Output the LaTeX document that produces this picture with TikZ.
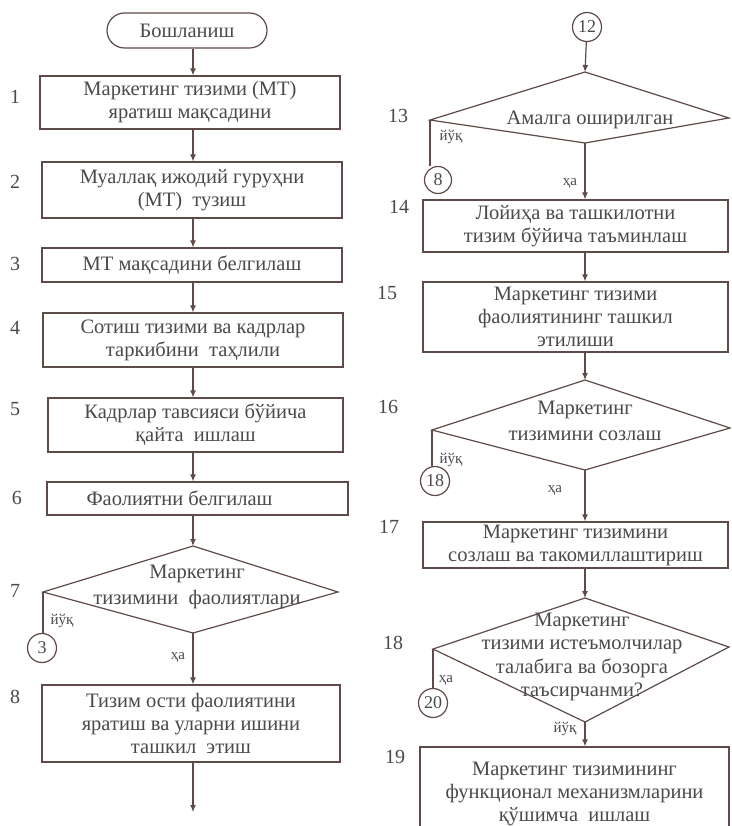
\documentclass[tikz,border=0pt]{standalone}
\usepackage{fontspec}
\setmainfont{Liberation Serif}
\usetikzlibrary{arrows.meta,shapes.misc}
\definecolor{lnc}{HTML}{5E4A46}
\definecolor{txc}{HTML}{4A4A4A}
\tikzset{
  txt/.style={text=txc,font=\fontsize{20.5}{23}\selectfont,align=center,inner sep=0pt},
  box/.style={txt,draw=lnc,line width=1.2pt},
  num/.style={text=txc,font=\fontsize{20}{22}\selectfont,inner sep=0pt},
  lab/.style={text=txc,font=\fontsize{15}{16}\selectfont,inner sep=0pt},
  conn/.style={draw=lnc,line width=1.2pt,circle,inner sep=0pt,minimum size=29pt,text=txc,font=\fontsize{18}{18}\selectfont},
  lnk/.style={draw=lnc,line width=1.2pt},
  arr/.style={lnk,-{Latex[length=7pt,width=6pt]}},
  dia/.style={lnk,line join=miter},
}
\begin{document}
\begin{tikzpicture}[x=1pt,y=-1pt]
\useasboundingbox[fill=white] (0,0) rectangle (731,826);
\clip (0,0) rectangle (731,826);
\coordinate (axL) at (193,0);
\coordinate (axR) at (585,0);

% ---------- left column ----------
\node[box,rounded rectangle,minimum width=160pt,minimum height=35pt] (start) at (187,30.5) {Бошланиш};
\node[box,minimum width=300pt,minimum height=53pt] (b1) at (190,102.5) {Маркетинг тизими (МТ)\\яратиш мақсадини};
\node[box,minimum width=300pt,minimum height=56pt] (b2) at (192,190) {Муаллақ ижодий гуруҳни\\(МТ)\ \ тузиш};
\node[box,minimum width=300pt,minimum height=34pt] (b3) at (192,265) {МТ мақсадини белгилаш};
\node[box,minimum width=300pt,minimum height=54pt] (b4) at (193,340) {Сотиш тизими ва кадрлар\\таркибини\ \ таҳлили};
\node[box,minimum width=295pt,minimum height=54pt] (b5) at (195.5,425) {Кадрлар тавсияси бўйича\\қайта\ \ ишлаш};
\node[box,minimum width=301pt,minimum height=33pt] (b6) at (197.5,498.5) {\hspace*{-36pt}Фаолиятни белгилаш};

\coordinate (d7t) at (193,546);
\coordinate (d7r) at (338,592);
\coordinate (d7b) at (193,633);
\coordinate (d7l) at (43,592);
\draw[dia] (d7t) -- (d7r) -- (d7b) -- (d7l) -- cycle;
\node[txt,font=\fontsize{20.5}{26}\selectfont] (d7x) at (197,587) {Маркетинг\\тизимини\enspace фаолиятлари};
\node[conn] (c3) at (42,648) {3};
\node[box,minimum width=298pt,minimum height=77pt] (b8) at (191,723.5) {Тизим ости фаолиятини\\яратиш ва уларни ишини\\ташкил\ \ этиш};
\coordinate (e8) at (193,812);

\node[num] (n1) at (15,97) {1};
\node[num] (n2) at (15,182) {2};
\node[num] (n3) at (15,264) {3};
\node[num] (n4) at (15,328) {4};
\node[num] (n5) at (15,409) {5};
\node[num] (n6) at (17,498) {6};
\node[num] (n7) at (15,591) {7};
\node[num] (n8) at (15,697) {8};

\node[lab] (l7n) at (62,621) {йўқ};
\node[lab] (l7y) at (178,657) {ҳа};

\draw[arr] (start.south -| axL) -- (b1.north -| axL);
\draw[arr] (b1.south -| axL) -- (b2.north -| axL);
\draw[arr] (b2.south -| axL) -- (b3.north -| axL);
\draw[arr] (b3.south -| axL) -- (b4.north -| axL);
\draw[arr] (b4.south -| axL) -- (b5.north -| axL);
\draw[arr] (b5.south -| axL) -- (b6.north -| axL);
\draw[arr] (b6.south -| axL) -- (d7t);
\draw[lnk] (d7l) -- (d7l |- c3.north);
\draw[arr] (d7b) -- (b8.north -| d7b);
\draw[arr] (b8.south -| axL) -- (e8);

% ---------- right column ----------
\node[conn] (c12) at (587,27) {12};
\coordinate (d13t) at (585,72);
\coordinate (d13r) at (729,118);
\coordinate (d13b) at (585,143);
\coordinate (d13l) at (430,120);
\draw[dia] (d13t) -- (d13r) -- (d13b) -- (d13l) -- cycle;
\node[txt] (d13x) at (590,120) {Амалга оширилган};
\node[conn,minimum size=27pt] (c8) at (438,180) {8};
\node[box,minimum width=305pt,minimum height=52pt] (b14) at (575.5,226) {Лойиҳа ва ташкилотни\\тизим бўйича таъминлаш};
\node[box,minimum width=305pt,minimum height=70pt] (b15) at (575.5,317) {Маркетинг тизими\\фаолиятининг ташкил\\этилиши};
\coordinate (d16t) at (585,380);
\coordinate (d16r) at (730,428);
\coordinate (d16b) at (585,470);
\coordinate (d16l) at (432,430);
\draw[dia] (d16t) -- (d16r) -- (d16b) -- (d16l) -- cycle;
\node[txt,font=\fontsize{20.5}{26}\selectfont] (d16x) at (585,421) {Маркетинг\\тизимини созлаш};
\node[conn] (c18) at (435,481) {18};
\node[box,minimum width=305pt,minimum height=46pt] (b17) at (575.5,545) {Маркетинг тизимини\\созлаш ва такомиллаштириш};
\coordinate (d18t) at (585,598);
\coordinate (d18r) at (729,647);
\coordinate (d18b) at (585,722);
\coordinate (d18l) at (433,649);
\draw[dia] (d18t) -- (d18r) -- (d18b) -- (d18l) -- cycle;
\node[txt,font=\fontsize{20.5}{23.5}\selectfont] (d18x) at (582,657) {Маркетинг\\тизими истеъмолчилар\\талабига ва бозорга\\таъсирчанми?};
\node[conn] (c20) at (433,703) {20};
\node[box,minimum width=309pt,minimum height=94pt] (b19) at (574.5,794) {Маркетинг тизимининг\\функционал механизмларини\\қўшимча\ \ ишлаш};

\node[num] (n13) at (398,116) {13};
\node[num] (n14) at (399,207) {14};
\node[num] (n15) at (387,293) {15};
\node[num] (n16) at (388,407) {16};
\node[num] (n17) at (389,527) {17};
\node[num] (n18) at (393,643) {18};
\node[num] (n19) at (395,757) {19};

\node[lab] (l13n) at (451,137) {йўқ};
\node[lab] (l13y) at (570,183) {ҳа};
\node[lab] (l16n) at (451,460) {йўқ};
\node[lab] (l16y) at (555,490) {ҳа};
\node[lab] (l18y) at (446,680) {ҳа};
\node[lab] (l18n) at (565,729) {йўқ};

\draw[arr] (c12) -- (d13t);
\draw[lnk] (d13l) -- (d13l |- c8.north);
\draw[arr] (d13b) -- (b14.north -| d13b);
\draw[arr] (b14.south -| axR) -- (b15.north -| axR);
\draw[arr] (b15.south -| axR) -- (d16t);
\draw[lnk] (d16l) -- (d16l |- c18.north);
\draw[arr] (d16b) -- (b17.north -| d16b);
\draw[arr] (b17.south -| axR) -- (d18t);
\draw[lnk] (d18l) -- (d18l |- c20.north);
\draw[arr] (d18b) -- (b19.north -| d18b);
\end{tikzpicture}
\end{document}
